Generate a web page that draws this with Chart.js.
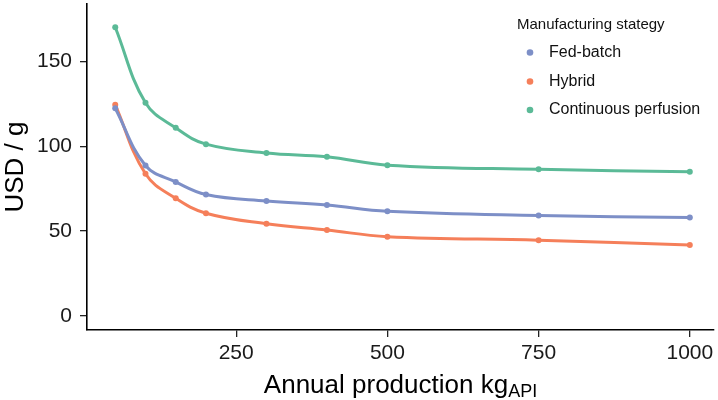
<!DOCTYPE html>
<html>
<head>
<meta charset="utf-8">
<script src="https://cdn.jsdelivr.net/npm/chart.js@4/dist/chart.umd.min.js"></script>
<style>
  html, body { margin: 0; padding: 0; background: #fff; }
  canvas { display: block; }
</style>
</head>
<body>
<canvas id="costChart" width="718" height="400"></canvas>
<script>
// annual production (kg API)
const production = [50, 100, 150, 200, 300, 400, 500, 750, 1000];

// cost of goods, USD / g
const fedBatch = [122.5, 88.7, 79.0, 71.6, 67.7, 65.4, 61.7, 59.2, 58.0];
const hybrid = [124.5, 83.8, 69.3, 60.5, 54.3, 50.6, 46.7, 44.6, 41.8];
const perfusion = [170.3, 125.7, 110.9, 101.3, 96.1, 93.8, 88.9, 86.4, 85.0];

const xTicks = [250, 500, 750, 1000];
const yTicks = [0, 50, 100, 150];

const colors = {
  fed: '#7D8FC7',
  hyb: '#F57F5A',
  per: '#5BBA97'
};

const FONT = "'Liberation Sans', Arial, sans-serif";

function series(label, values, color) {
  return {
    label: label,
    data: production.map((x, i) => ({ x: x, y: values[i] })),
    borderColor: color,
    backgroundColor: color,
    borderWidth: 3,
    pointRadius: 3,
    pointBorderWidth: 0,
    tension: 0.4,
    fill: false
  };
}

// x title with subscript + legend box drawn on canvas
const extras = {
  id: 'extras',
  afterDraw(chart) {
    const ctx = chart.ctx;
    const area = chart.chartArea;
    ctx.save();
    ctx.fillStyle = '#000';
    ctx.textBaseline = 'alphabetic';

    // x axis title
    const main = 'Annual production kg';
    const sub = 'API';
    ctx.font = '26px ' + FONT;
    const wMain = ctx.measureText(main).width;
    ctx.font = '18px ' + FONT;
    const wSub = ctx.measureText(sub).width;
    const cx = (area.left + area.right) / 2;
    const x0 = cx - (wMain + wSub) / 2;
    ctx.font = '26px ' + FONT;
    ctx.textAlign = 'left';
    ctx.fillText(main, x0, 393);
    ctx.font = '18px ' + FONT;
    ctx.fillText(sub, x0 + wMain, 397);

    // legend
    ctx.fillStyle = '#111';
    ctx.font = '15px ' + FONT;
    ctx.textBaseline = 'middle';
    ctx.fillText('Manufacturing stategy', 517, 25);
    const rows = [52.5, 81.5, 110];
    chart.data.datasets.forEach((ds, i) => {
      ctx.fillStyle = ds.borderColor;
      ctx.beginPath();
      ctx.arc(530, rows[i], 3.3, 0, Math.PI * 2);
      ctx.fill();
      ctx.fillStyle = '#111';
      ctx.font = '16px ' + FONT;
      ctx.fillText(ds.label, 549, rows[i]);
    });
    ctx.restore();
  }
};

new Chart(document.getElementById('costChart').getContext('2d'), {
  type: 'line',
  data: {
    datasets: [
      series('Fed-batch', fedBatch, colors.fed),
      series('Hybrid', hybrid, colors.hyb),
      series('Continuous perfusion', perfusion, colors.per)
    ]
  },
  options: {
    responsive: false,
    animation: false,
    layout: { padding: { top: 0, right: 1, bottom: 0, left: 0 } },
    plugins: {
      legend: { display: false },
      tooltip: { enabled: false }
    },
    scales: {
      x: {
        type: 'linear',
        min: 3.3,
        max: 1040,
        afterBuildTicks: scale => { scale.ticks = xTicks.map(v => ({ value: v })); },
        afterFit: scale => {
          scale.height = 70;
          scale.paddingLeft = 0;
          scale.paddingRight = 0;
        },
        grid: {
          display: true,
          drawOnChartArea: false,
          drawTicks: true,
          tickLength: 7,
          color: '#222',
          lineWidth: 1.3
        },
        border: { display: true, color: '#000', width: 1.6 },
        ticks: {
          color: '#1a1a1a',
          padding: 4,
          maxRotation: 0,
          callback: v => String(v),
          font: { family: FONT, size: 21 }
        }
      },
      y: {
        type: 'linear',
        min: -8.4,
        max: 184,
        afterBuildTicks: scale => { scale.ticks = yTicks.map(v => ({ value: v })); },
        afterFit: scale => {
          scale.width = 87;
          scale.paddingTop = 0;
          scale.paddingBottom = 0;
        },
        grid: {
          display: true,
          drawOnChartArea: false,
          drawTicks: true,
          tickLength: 7,
          color: '#222',
          lineWidth: 1.3
        },
        border: { display: true, color: '#000', width: 1.6 },
        ticks: {
          color: '#1a1a1a',
          padding: 8,
          callback: v => String(v),
          font: { family: FONT, size: 21 }
        },
        title: {
          display: true,
          text: 'USD / g',
          color: '#000',
          padding: { top: 0, bottom: 0 },
          font: { family: FONT, size: 26 }
        }
      }
    }
  },
  plugins: [extras]
});
</script>
</body>
</html>
